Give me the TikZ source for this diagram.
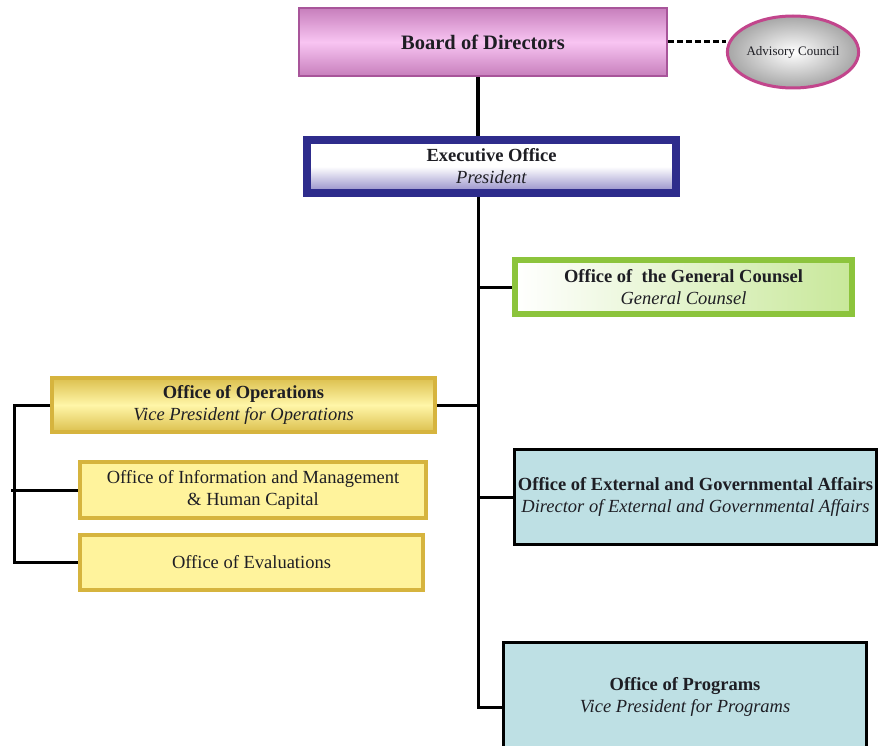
\documentclass[tikz,border=0pt]{standalone}
\usepackage{fontspec}
\setmainfont{Liberation Serif}
\usetikzlibrary{shapes.geometric}

\definecolor{textDark}{HTML}{1E1E24}
\definecolor{boardLine}{HTML}{A8559A}
\definecolor{boardDark}{HTML}{C77FBC}
\definecolor{boardLight}{HTML}{F8C4F2}
\definecolor{advLine}{HTML}{C2458C}
\definecolor{execLine}{HTML}{2E2C8C}
\definecolor{execLav}{HTML}{8F88C6}
\definecolor{genLine}{HTML}{8CC43C}
\definecolor{genLight}{HTML}{C8E89A}
\definecolor{opsLine}{HTML}{D6B43E}
\definecolor{opsDark}{HTML}{DCC04E}
\definecolor{opsLight}{HTML}{FFF6A8}
\definecolor{subFill}{HTML}{FFF39C}
\definecolor{blueFill}{HTML}{BEE0E4}

\tikzset{every picture/.style={x=1pt, y=-1pt},
        orgBox/.style={rectangle, align=center, text=textDark, inner sep=0pt,
                       font=\fontsize{18.5}{22}\selectfont},
        boardBox/.style={orgBox, draw=boardLine, line width=2pt,
                         top color=boardDark, bottom color=boardDark, middle color=boardLight},
        execBox/.style={orgBox, draw=execLine, line width=8pt, shading angle=160,
                        top color=white, bottom color=execLav, middle color=white},
        genBox/.style={orgBox, draw=genLine, line width=6pt, shading angle=70,
                       left color=white, right color=genLight},
        opsBox/.style={orgBox, draw=opsLine, line width=4pt,
                       top color=opsDark, bottom color=opsDark, middle color=opsLight},
        subBox/.style={orgBox, draw=opsLine, line width=4pt, fill=subFill},
        blueBox/.style={orgBox, draw=black, line width=3pt, fill=blueFill},
        link/.style={line width=3pt, black},
        dashLink/.style={line width=3pt, black, dash pattern=on 6pt off 3pt}}

\begin{document}
\begin{tikzpicture}

\useasboundingbox (0,0) rectangle (881,746);

% draw boxes
\node[boardBox, minimum width=368pt, minimum height=68pt] (board) at (483,42)
    {\fontsize{20.5}{24}\selectfont\textbf{Board of Directors}};
\node[ellipse, draw=advLine, line width=3pt, inner color=white, outer color=gray!70,
      minimum width=106pt, minimum height=72pt, inner sep=0pt, text=textDark,
      font=\fontsize{13}{15}\selectfont] (advCouncil) at (793,52) {Advisory Council};
\node[execBox, minimum width=369pt, minimum height=53pt] (exec) at (491.5,166.5)
    {\textbf{Executive Office}\\\textit{President}};
\node[genBox, minimum width=337pt, minimum height=54pt] (genCounsel) at (683.5,287)
    {\textbf{Office of \ the General Counsel}\\\textit{General Counsel}};
\node[opsBox, minimum width=383pt, minimum height=54pt] (ops) at (243.5,405)
    {\textbf{Office of Operations}\\\textit{Vice President for Operations}};
\node[subBox, minimum width=346pt, minimum height=56pt] (infoMgmt) at (253,490)
    {Office of Information and Management\\\& Human Capital};
\node[subBox, minimum width=343pt, minimum height=55pt] (evals) at (251.5,562.5)
    {Office of Evaluations};
\node[blueBox, minimum width=362pt, minimum height=95pt] (extAffairs) at (695.5,497)
    {\textbf{Office of External and Governmental Affairs}\\\textit{Director of External and Governmental Affairs}};
\node[blueBox, minimum width=363pt, minimum height=108pt] (programs) at (685,696.5)
    {\textbf{Office of Programs}\\\textit{Vice President for Programs}};

% draw connectors
\coordinate (trunk) at (478,0);
\coordinate (opsBus) at (14,0);

\draw[dashLink] (board.east) -- (board.east -| advCouncil.west);
\draw[link, line width=4pt] (board.south -| trunk) -- (exec.north -| trunk);
\draw[link] (exec.south -| trunk) |- ([yshift=-10.5pt]programs.west);
\draw[link] (genCounsel.west -| trunk) -- (genCounsel.west);
\draw[link] (ops.east) -- (ops.east -| trunk);
\draw[link] (extAffairs.west -| trunk) -- (extAffairs.west);

\draw[link] (ops.west) -- (ops.west -| opsBus) -- (evals.west -| opsBus) -- (evals.west);
\draw[link] ([xshift=-3pt]infoMgmt.west -| opsBus) -- (infoMgmt.west);

\end{tikzpicture}
\end{document}
